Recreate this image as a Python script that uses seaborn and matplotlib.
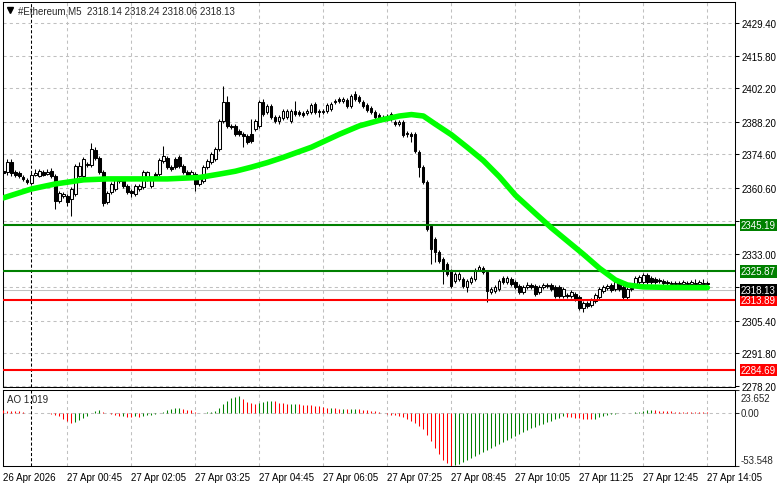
import numpy as np
import matplotlib
matplotlib.use("Agg")
import matplotlib.pyplot as plt
import matplotlib.transforms as mtransforms
import seaborn as sns

# ==========================
# DATA  (#Ethereum M5, one bar per 5 minutes, 26 Apr 23:25 -> 27 Apr 14:05)
# ==========================
opens = [
    2367.7, 2367.3, 2371.5, 2367.3, 2366.9, 2365.2, 2364.0, 2362.7, 2366.0, 2365.6, 2367.3, 2366.5, 2367.7, 2365.6, 2355.2, 2357.3,
    2357.3, 2356.1, 2358.1, 2365.6, 2365.6, 2370.2, 2370.2, 2376.5, 2373.1, 2367.3, 2354.8, 2359.0, 2360.2, 2363.5, 2363.9, 2361.5,
    2359.4, 2358.1, 2360.2, 2361.0, 2364.4, 2361.5, 2366.5, 2366.5, 2371.9, 2373.1, 2369.4, 2372.7, 2373.5, 2369.8, 2367.3, 2366.0,
    2366.5, 2362.3, 2363.5, 2369.4, 2371.5, 2372.7, 2376.9, 2388.5, 2396.5, 2386.5, 2386.5, 2384.4, 2383.1, 2382.3, 2383.1, 2385.2,
    2386.5, 2396.5, 2392.3, 2394.8, 2390.2, 2388.5, 2389.8, 2390.2, 2388.5, 2392.7, 2392.3, 2391.9, 2391.9, 2392.3, 2395.6, 2392.7,
    2392.3, 2392.7, 2393.6, 2396.9, 2397.7, 2396.9, 2397.3, 2394.8, 2399.8, 2398.5, 2396.5, 2395.2, 2394.0, 2392.3, 2391.0, 2390.2,
    2389.4, 2391.5, 2388.1, 2387.3, 2388.1, 2383.6, 2383.1, 2383.1, 2375.6, 2369.4, 2363.1, 2344.8, 2339.4, 2334.0, 2331.1, 2329.0,
    2326.1, 2321.9, 2322.7, 2322.7, 2319.4, 2321.5, 2322.7, 2326.5, 2327.3, 2325.6, 2317.3, 2317.7, 2318.6, 2323.1, 2321.5, 2322.7,
    2321.5, 2319.8, 2317.3, 2319.4, 2320.2, 2319.8, 2317.3, 2319.4, 2320.2, 2320.2, 2319.4, 2319.4, 2315.6, 2316.1, 2315.6, 2316.5,
    2315.2, 2310.6, 2312.7, 2311.9, 2313.5, 2315.2, 2317.7, 2319.0, 2320.2, 2318.6, 2320.6, 2319.4, 2315.2, 2318.6, 2320.6, 2321.5,
    2321.5, 2324.4, 2323.1, 2322.7, 2322.3, 2321.9, 2321.5, 2321.1, 2320.6, 2321.1, 2320.6, 2321.1, 2320.6, 2321.1, 2320.6, 2321.1, 2320.6,
]
highs = [
    2368.9, 2372.7, 2372.5, 2368.1, 2367.7, 2366.0, 2364.8, 2367.3, 2368.5, 2368.6, 2368.1, 2368.6, 2369.0, 2366.5, 2359.4, 2358.9,
    2358.1, 2361.0, 2370.6, 2371.5, 2373.5, 2371.5, 2379.4, 2377.7, 2373.9, 2368.1, 2359.4, 2363.1, 2365.2, 2364.8, 2364.8, 2362.3,
    2360.2, 2362.3, 2362.3, 2368.1, 2367.7, 2365.2, 2367.3, 2373.1, 2378.1, 2373.9, 2370.2, 2373.5, 2374.4, 2370.6, 2368.1, 2368.1,
    2367.3, 2365.2, 2370.2, 2372.7, 2375.6, 2377.7, 2389.4, 2403.1, 2399.0, 2387.3, 2387.3, 2385.2, 2383.9, 2383.1, 2389.4, 2389.4,
    2397.3, 2397.7, 2395.6, 2395.6, 2391.0, 2391.0, 2393.5, 2393.5, 2393.5, 2396.9, 2393.1, 2392.7, 2393.5, 2396.0, 2396.5, 2393.5,
    2393.5, 2396.0, 2396.5, 2397.7, 2398.5, 2398.5, 2398.1, 2399.8, 2401.0, 2399.4, 2397.3, 2396.0, 2394.8, 2393.1, 2391.9, 2391.0,
    2391.5, 2392.3, 2388.9, 2388.9, 2388.9, 2384.4, 2383.9, 2383.9, 2376.5, 2370.2, 2363.9, 2345.6, 2340.2, 2334.8, 2331.9, 2329.8,
    2326.9, 2325.6, 2325.6, 2323.5, 2322.7, 2323.9, 2327.3, 2328.6, 2328.1, 2326.5, 2319.4, 2320.2, 2322.7, 2323.9, 2323.9, 2323.5,
    2322.3, 2320.6, 2320.2, 2321.5, 2321.0, 2320.6, 2320.2, 2321.0, 2321.0, 2321.0, 2320.2, 2320.2, 2319.4, 2316.9, 2318.1, 2317.3,
    2316.1, 2313.5, 2313.5, 2314.8, 2316.9, 2319.4, 2320.2, 2320.6, 2321.0, 2322.3, 2321.5, 2320.2, 2319.4, 2319.8, 2323.9, 2324.4,
    2325.2, 2325.2, 2323.9, 2323.5, 2323.1, 2322.7, 2322.3, 2321.9, 2321.9, 2321.9, 2322.3, 2321.9, 2322.3, 2322.7, 2322.3, 2322.7, 2321.9,
]
lows = [
    2366.0, 2366.0, 2365.6, 2365.2, 2364.8, 2363.5, 2362.3, 2361.9, 2365.6, 2365.2, 2365.6, 2366.0, 2364.8, 2351.9, 2354.4, 2356.5,
    2353.1, 2349.0, 2357.3, 2365.2, 2364.8, 2369.4, 2369.4, 2372.3, 2366.5, 2353.1, 2354.0, 2358.1, 2359.4, 2362.7, 2360.6, 2358.1,
    2356.9, 2357.3, 2359.4, 2360.2, 2363.5, 2360.6, 2364.4, 2365.6, 2371.1, 2368.6, 2367.7, 2368.6, 2369.0, 2366.5, 2365.2, 2365.2,
    2359.4, 2361.5, 2362.7, 2368.6, 2370.6, 2371.9, 2376.0, 2387.7, 2385.6, 2385.2, 2382.3, 2382.3, 2377.7, 2379.0, 2379.4, 2384.4,
    2385.6, 2390.6, 2391.5, 2389.4, 2387.7, 2387.3, 2389.0, 2389.4, 2387.7, 2390.6, 2390.6, 2390.2, 2391.0, 2391.5, 2391.5, 2390.2,
    2391.5, 2391.9, 2392.7, 2395.6, 2396.0, 2396.0, 2394.0, 2394.0, 2396.9, 2396.0, 2394.0, 2392.3, 2391.5, 2389.4, 2388.1, 2388.5,
    2388.5, 2388.5, 2386.5, 2386.5, 2381.9, 2381.9, 2379.8, 2375.2, 2365.2, 2362.3, 2342.7, 2329.0, 2329.8, 2329.4, 2320.6, 2324.0,
    2319.0, 2321.1, 2321.9, 2319.0, 2317.3, 2320.6, 2321.9, 2326.0, 2324.8, 2313.1, 2316.5, 2316.9, 2317.7, 2320.6, 2320.6, 2319.8,
    2318.6, 2316.5, 2316.5, 2318.6, 2318.6, 2315.6, 2316.5, 2318.6, 2319.0, 2317.7, 2314.8, 2314.8, 2314.8, 2314.8, 2314.8, 2313.5,
    2309.8, 2309.0, 2310.6, 2311.1, 2312.7, 2314.4, 2316.9, 2318.1, 2317.3, 2317.7, 2317.7, 2314.4, 2314.4, 2317.7, 2320.2, 2320.6,
    2320.6, 2320.6, 2320.6, 2320.6, 2321.1, 2320.2, 2320.2, 2319.8, 2319.8, 2319.8, 2319.8, 2319.8, 2319.8, 2319.8, 2319.8, 2319.8, 2320.2,
]
closes = [
    2366.9, 2371.5, 2366.9, 2366.0, 2365.6, 2364.4, 2363.1, 2366.0, 2366.9, 2367.7, 2366.0, 2367.3, 2365.6, 2355.2, 2358.6, 2358.1,
    2354.8, 2360.2, 2369.8, 2369.8, 2372.7, 2370.6, 2376.9, 2373.1, 2367.3, 2354.4, 2358.6, 2362.3, 2364.4, 2363.9, 2361.5, 2359.0,
    2358.6, 2361.5, 2361.5, 2367.3, 2367.3, 2364.4, 2365.2, 2372.3, 2374.0, 2369.4, 2368.6, 2369.4, 2369.8, 2367.3, 2366.0, 2367.3,
    2362.3, 2364.4, 2369.4, 2371.9, 2374.8, 2376.9, 2388.5, 2396.5, 2386.5, 2386.0, 2383.1, 2383.1, 2382.3, 2379.8, 2380.2, 2388.5,
    2396.5, 2391.5, 2394.8, 2390.2, 2388.5, 2390.2, 2392.7, 2392.7, 2392.7, 2391.5, 2391.5, 2391.0, 2392.7, 2395.2, 2392.3, 2392.3,
    2392.7, 2395.2, 2395.6, 2396.5, 2396.9, 2397.7, 2394.8, 2399.0, 2397.7, 2396.9, 2394.8, 2393.1, 2392.3, 2390.2, 2389.0, 2389.4,
    2390.6, 2389.4, 2387.3, 2388.1, 2382.7, 2383.1, 2382.3, 2376.0, 2369.4, 2363.1, 2343.6, 2335.2, 2334.0, 2330.2, 2326.1, 2324.8,
    2319.8, 2324.8, 2324.8, 2319.8, 2321.9, 2323.1, 2326.5, 2327.7, 2325.6, 2317.7, 2318.6, 2319.4, 2321.9, 2321.5, 2323.1, 2320.6,
    2319.4, 2317.3, 2319.4, 2320.2, 2319.4, 2316.5, 2319.4, 2320.2, 2319.8, 2318.6, 2315.6, 2315.6, 2318.6, 2315.6, 2317.3, 2314.4,
    2310.6, 2312.7, 2311.5, 2314.0, 2316.1, 2318.6, 2319.4, 2319.8, 2318.1, 2321.5, 2318.6, 2315.2, 2318.6, 2319.0, 2323.1, 2323.5,
    2324.4, 2321.5, 2321.5, 2321.5, 2321.9, 2321.1, 2321.1, 2320.6, 2321.1, 2320.6, 2321.5, 2320.6, 2321.5, 2320.6, 2321.5, 2320.6, 2321.1,
]

# moving average (bar index, price)
ma_idx = [0, 7, 13, 20, 26, 33, 41, 49, 54, 58, 62, 66, 70, 77, 84, 89, 94, 99, 102, 105,
          108, 112, 116, 120, 124, 128, 133, 137, 141, 145, 149, 153, 156, 160, 166, 176]
ma_val = [2356.5, 2360.2, 2362.3, 2364.0, 2364.4, 2364.4, 2364.4, 2365.0, 2366.4, 2367.6,
          2369.3, 2371.2, 2373.4, 2377.6, 2383.0, 2386.5, 2388.8, 2390.6, 2391.2, 2390.6,
          2387.2, 2382.8, 2377.5, 2372.0, 2365.3, 2357.6, 2350.0, 2344.0, 2338.5, 2333.0,
          2327.2, 2322.3, 2320.2, 2319.4, 2319.2, 2319.1]

# Awesome Oscillator
ao = [
    3.0, 2.8, 2.6, 2.3, 2.0, 1.3, 0.4, 0.2, 0.1, 0.2, 0.3, 0.1, -0.3, -1.5, -3.0, -5.5,
    -8.0, -10.0, -9.0, -7.0, -4.5, -2.5, 0.5, 2.0, 3.3, 1.8, 0.5, -0.8, -2.0, -3.0, -2.5, -3.5,
    -3.8, -3.0, -3.5, -3.0, -2.2, -1.5, -1.0, 0.5, 1.5, 3.0, 4.5, 5.5, 5.8, 4.5, 3.5, 3.0,
    1.0, 0.4, 0.6, 0.8, 1.2, 2.5, 5.0, 9.0, 12.8, 15.2, 17.0, 18.0, 14.5, 11.0, 10.0, 9.6,
    10.5, 11.5, 12.3, 12.8, 12.0, 10.8, 10.0, 9.3, 9.5, 9.8, 9.0, 8.5, 8.2, 8.0, 7.5, 7.0,
    6.0, 5.5, 5.7, 5.2, 4.5, 4.8, 4.2, 4.4, 4.8, 4.2, 3.5, 3.0, 2.6, 2.0, 1.2, 0.2,
    -0.8, -1.5, -2.2, -3.0, -4.2, -5.5, -7.5, -10.0, -13.0, -16.0, -22.0, -28.0, -35.0, -41.0, -47.0, -51.0,
    -53.5, -53.0, -51.5, -49.5, -47.5, -45.5, -43.5, -41.0, -39.0, -37.0, -35.0, -33.0, -31.0, -29.0, -27.0, -25.0,
    -23.0, -21.0, -19.0, -17.0, -15.0, -13.5, -12.0, -10.5, -9.0, -7.5, -6.0, -4.5, -3.2, -3.5, -4.0, -4.5,
    -5.0, -5.5, -6.0, -6.3, -5.5, -4.0, -2.5, -1.5, -0.8, -0.3, 0.2, 0.3, 0.2, 0.5, 1.0, 1.5,
    2.2, 3.0, 3.2, 3.0, 2.7, 2.4, 2.1, 1.9, 1.7, 1.6, 1.5, 1.4, 1.3, 1.2, 1.1, 1.05, 1.019,
]

levels = [2345.19, 2325.87, 2313.89, 2284.69]
level_colors = ["#008000", "#008000", "#ff0000", "#ff0000"]
bid = 2318.13

price_ticks = [2278.20, 2291.80, 2305.40, 2319.20, 2333.00, 2346.80,
               2360.60, 2374.60, 2388.20, 2402.20, 2415.80, 2429.40]
# the two ticks under the coloured price boxes keep their grid line only
hidden_ticks = [2319.20, 2346.80]
ao_ticks = [23.652, 0.0, -53.548]

time_idx = [0, 16, 32, 48, 64, 80, 96, 112, 128, 144, 160, 176]
time_labels = ["26 Apr 2026", "27 Apr 00:45", "27 Apr 02:05", "27 Apr 03:25",
               "27 Apr 04:45", "27 Apr 06:05", "27 Apr 07:25", "27 Apr 08:45",
               "27 Apr 10:05", "27 Apr 11:25", "27 Apr 12:45", "27 Apr 14:05"]
day_break = 7   # 27 Apr 00:00

title = "#Ethereum,M5  2318.14 2318.24 2318.06 2318.13"

# ==========================
# STYLE
# ==========================
sns.set_style("white")
plt.rcParams["font.family"] = ["Liberation Sans", "DejaVu Sans"]
FS = 7
plt.rcParams["font.size"] = FS

GRID = dict(color="#c0c0c0", ls=(0, (3, 3)), lw=0.75)

W, H = 781, 489
fig = plt.figure(figsize=(W / 100, H / 100), dpi=100)
fig.patch.set_facecolor("white")
ax = fig.add_axes([3 / W, 1 - 388 / H, 732 / W, 385 / H])
ax_ao = fig.add_axes([3 / W, 1 - 467 / H, 732 / W, 76 / H])

# ==========================
# MAIN PANE - CANDLES
# ==========================
idx = np.arange(len(opens))
o = np.array(opens)
h = np.array(highs)
l = np.array(lows)
c = np.array(closes)
up = c >= o
body_lo = np.minimum(o, c)
body_h = np.maximum(np.abs(c - o), 0.25)

ax.vlines(idx, l, h, color="black", lw=0.75, zorder=3)
ax.bar(idx[up], body_h[up], bottom=body_lo[up], width=0.55,
       color="white", edgecolor="black", linewidth=0.75, zorder=4)
ax.bar(idx[~up], body_h[~up], bottom=body_lo[~up], width=0.55,
       color="black", edgecolor="black", linewidth=0.75, zorder=4)

sns.lineplot(x=ma_idx, y=ma_val, ax=ax, color="#00ff00", lw=4.0,
             zorder=6, legend=False)

ax.axhline(bid, color="#c0c0c0", lw=0.75, zorder=2)
for v, col in zip(levels, level_colors):
    ax.axhline(v, color=col, lw=1.5, zorder=5)

ax.axvline(day_break, color="black", ls=(0, (3, 2)), lw=0.75, zorder=2)

ax.set_xlim(-0.1, 182.9)
ax.set_ylim(2277.7, 2438.1)
ax.set_xticks(time_idx)
ax.tick_params(axis="x", length=0, labelbottom=False)
ax.yaxis.tick_right()
ax.set_yticks(price_ticks)
ax.set_yticklabels(["" if v in hidden_ticks else f"{v:.2f}" for v in price_ticks])
ax.tick_params(axis="y", direction="out", length=3, width=0.75, pad=2,
               colors="black", labelsize=FS)
ax.grid(True, **GRID)
ax.set_axisbelow(True)
ax.set_xlabel("")
ax.set_ylabel("")

# right-hand price boxes
trans = mtransforms.blended_transform_factory(ax.transAxes, ax.transData)
for v, col in zip(levels + [bid], level_colors + ["black"]):
    ax.text(1 + 6 / 732, v, f"{v:.2f}", transform=trans, color="white",
            ha="left", va="center", fontsize=FS, clip_on=False, zorder=10,
            bbox=dict(boxstyle="square,pad=0.12", fc=col, ec="none"))

# title line
ax.plot([10 / W], [1 - 11 / H], marker="v", ms=5, color="black",
        transform=fig.transFigure, clip_on=False)
fig.text(18 / W, 1 - 11 / H, title, ha="left", va="center", fontsize=FS)

# ==========================
# AO PANE
# ==========================
ao_arr = np.array(ao)
ao_cols = ["#ff0000"] + ["#008000" if ao_arr[i] > ao_arr[i - 1] else "#ff0000"
                         for i in range(1, len(ao_arr))]
ax_ao.vlines(idx, 0, ao_arr, colors=ao_cols, lw=0.75, zorder=3)
ax_ao.axhline(0, **GRID, zorder=1)
ax_ao.axvline(day_break, color="black", ls=(0, (3, 2)), lw=0.75, zorder=2)

ax_ao.set_xlim(-0.1, 182.9)
ax_ao.set_ylim(-53.548, 23.652)
ax_ao.set_xticks(time_idx)
ax_ao.set_xticklabels(time_labels, ha="left")
ax_ao.tick_params(axis="x", direction="out", length=3, width=0.75, pad=1.5,
                  colors="black", labelsize=FS)
ax_ao.grid(True, axis="x", **GRID)
ax_ao.set_axisbelow(True)
ax_ao.yaxis.tick_right()
ax_ao.set_yticks(ao_ticks)
ax_ao.set_yticklabels([])
ax_ao.tick_params(axis="y", direction="out", length=3, width=0.75)

ao_lab_y = [0.895, None, 0.079]
tr_ao = mtransforms.blended_transform_factory(ax_ao.transAxes, ax_ao.transData)
for v, fy in zip(ao_ticks, ao_lab_y):
    txt = f"{v:.3f}" if v != 0 else "0.00"
    if fy is None:
        ax_ao.text(1 + 6 / 732, v, txt, transform=tr_ao, ha="left",
                   va="center", fontsize=FS, clip_on=False)
    else:
        ax_ao.text(1 + 6 / 732, fy, txt, transform=ax_ao.transAxes,
                   ha="left", va="center", fontsize=FS, clip_on=False)

ax_ao.text(0.006, 0.88, "AO 1.019", transform=ax_ao.transAxes,
           ha="left", va="center", fontsize=FS)
ax_ao.set_xlabel("")
ax_ao.set_ylabel("")

for a in (ax, ax_ao):
    for s in a.spines.values():
        s.set_visible(True)
        s.set_color("black")
        s.set_linewidth(0.75)

fig.savefig("out.png", dpi=100, facecolor="white")
plt.close(fig)
